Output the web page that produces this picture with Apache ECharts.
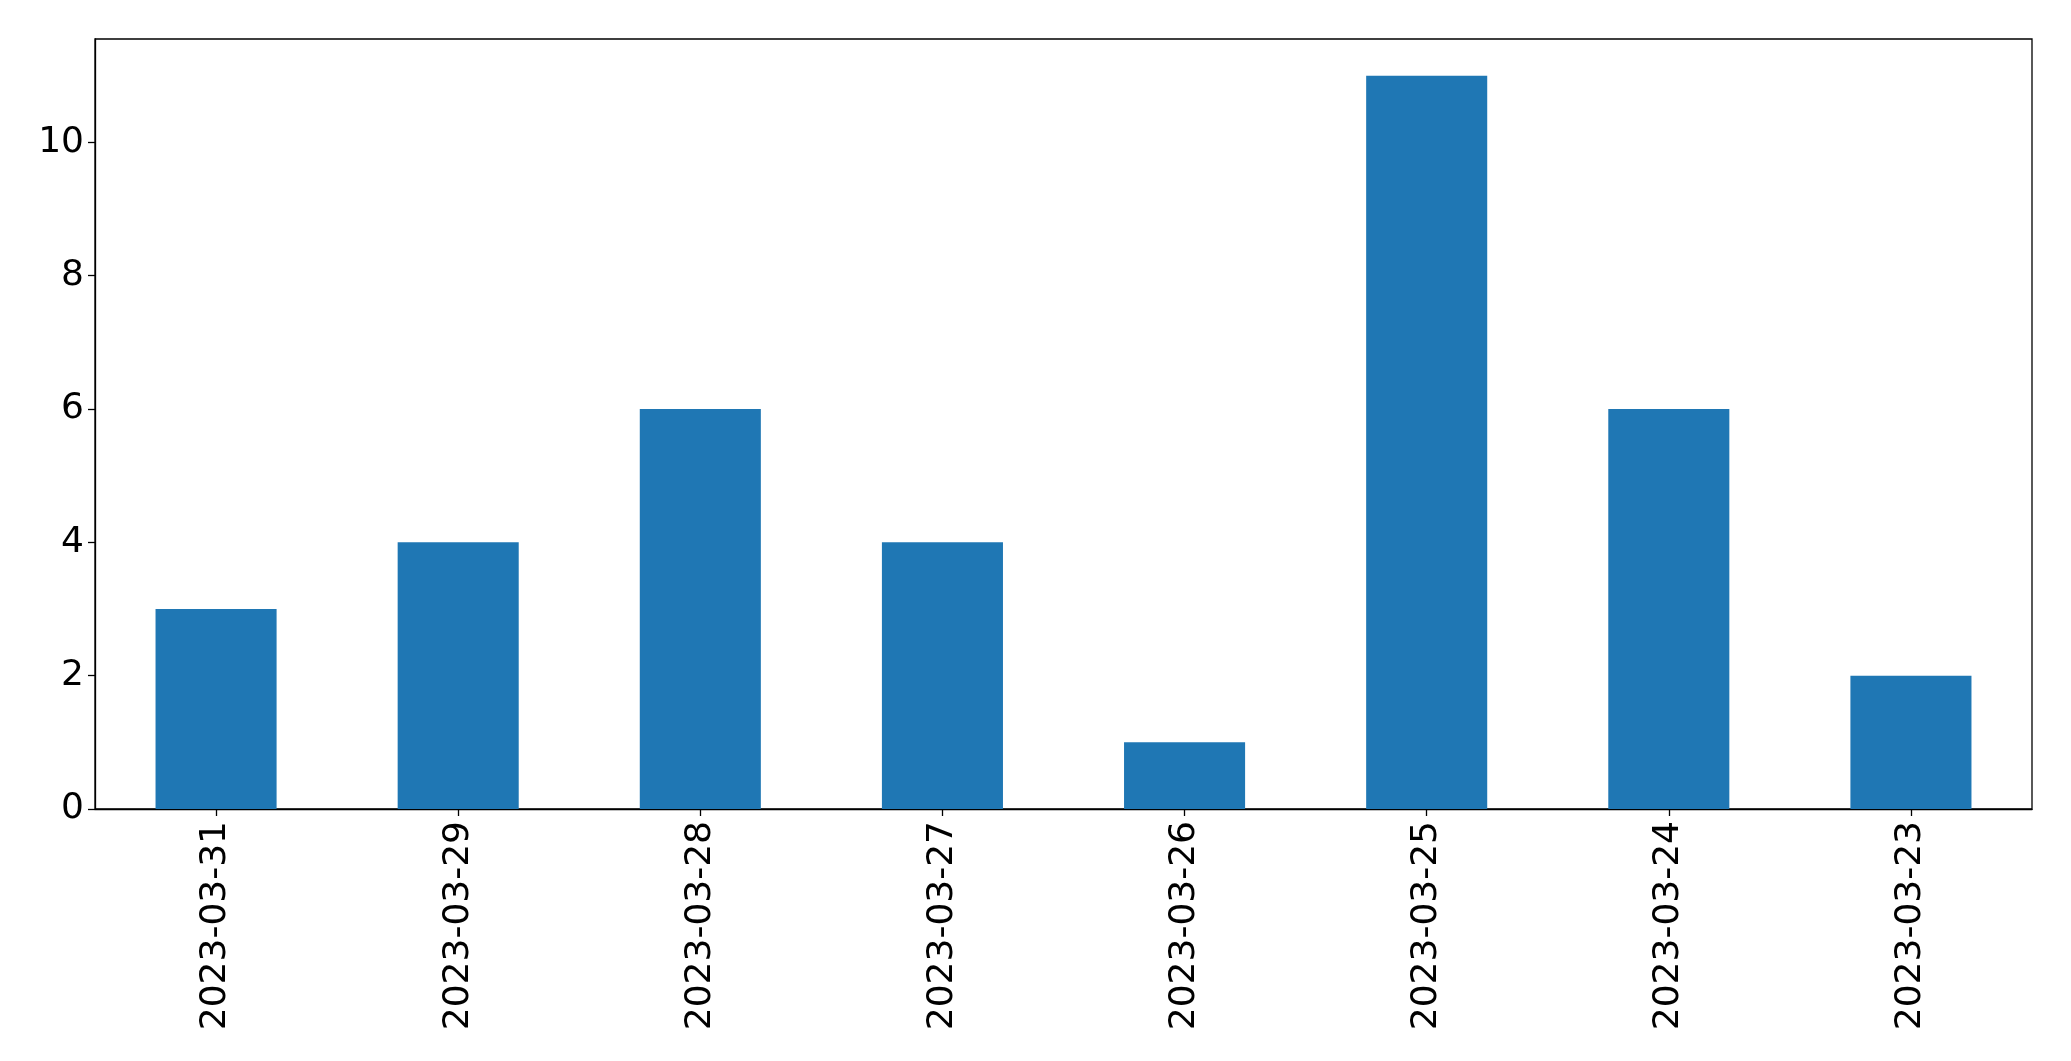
<!DOCTYPE html>
<html>
<head>
<meta charset="utf-8">
<script src="https://cdn.jsdelivr.net/npm/echarts@6/dist/echarts.min.js"></script>
<style>html,body{margin:0;padding:0;background:#fff;}#c{width:2071px;height:1061px;}</style>
</head>
<body>
<div id="c"></div>
<script>
const categories = ["2023-03-31","2023-03-29","2023-03-28","2023-03-27","2023-03-26","2023-03-25","2023-03-24","2023-03-23"];
const values = [3, 4, 6, 4, 1, 11, 6, 2];
const yMin = 0, yMax = 11.55, yInterval = 2;

const chart = echarts.init(document.getElementById('c'), null, {renderer: 'canvas'});
const font = 'DejaVu Sans';
chart.setOption({
  animation: false,
  backgroundColor: '#fff',
  grid: {left: 95, right: 39, top: 39, bottom: 252, show: true, borderColor: '#000', borderWidth: 1.3, backgroundColor: 'transparent'},
  xAxis: {
    type: 'category',
    data: categories,
    axisLine: {show: true, lineStyle: {color: '#000', width: 1.3}},
    axisTick: {show: true, alignWithLabel: true, length: 7, lineStyle: {color: '#000', width: 1.3}},
    axisLabel: {rotate: 90, margin: 12, color: '#000', fontSize: 36, fontFamily: font, interval: 0},
    splitLine: {show: false}
  },
  yAxis: {
    type: 'value',
    min: yMin, max: yMax, interval: yInterval,
    axisLine: {show: true, lineStyle: {color: '#000', width: 1.3}},
    axisTick: {show: true, length: 7, lineStyle: {color: '#000', width: 1.3}},
    axisLabel: {margin: 11, color: '#000', fontSize: 36, fontFamily: font, showMaxLabel: false},
    splitLine: {show: false}
  },
  series: [{
    type: 'bar',
    data: values,
    barWidth: '50%',
    itemStyle: {color: '#1f77b4'}
  }]
});
</script>
</body>
</html>
